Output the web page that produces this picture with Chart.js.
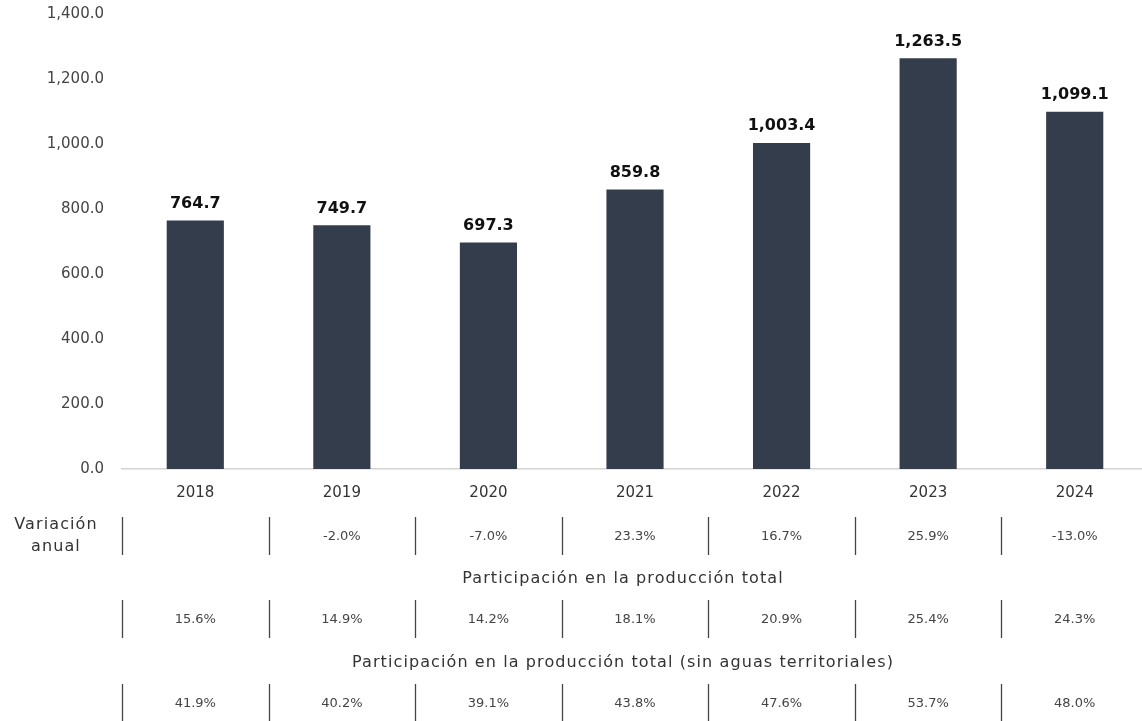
<!DOCTYPE html>
<html>
<head>
<meta charset="utf-8">
<script src="https://cdn.jsdelivr.net/npm/chart.js@4/dist/chart.umd.min.js"></script>
<style>
  html, body { margin: 0; padding: 0; background: #fff; overflow: hidden; }
  #wrap { width: 1150px; height: 721px; }
</style>
</head>
<body>
<div id="wrap"><canvas id="chart" width="1150" height="721"></canvas></div>
<script>
// datos
const years = ['2018', '2019', '2020', '2021', '2022', '2023', '2024'];
const values = [764.7, 749.7, 697.3, 859.8, 1003.4, 1263.5, 1099.1];
const variacionAnual = ['', '-2.0%', '-7.0%', '23.3%', '16.7%', '25.9%', '-13.0%'];
const participacion = ['15.6%', '14.9%', '14.2%', '18.1%', '20.9%', '25.4%', '24.3%'];
const participacionSinAguas = ['41.9%', '40.2%', '39.1%', '43.8%', '47.6%', '53.7%', '48.0%'];
const rowTitles = ['Participación en la producción total', 'Participación en la producción total (sin aguas territoriales)'];

const FONT = '"DejaVu Sans", "Noto Sans", sans-serif';
const fmt = v => v.toLocaleString('en-US', { minimumFractionDigits: 1, maximumFractionDigits: 1 });

// etiquetas sobre barras + tabla inferior
const extrasPlugin = {
  id: 'extras',
  afterDatasetsDraw(chart) {
    const ctx = chart.ctx;
    const x = chart.scales.x;
    const meta = chart.getDatasetMeta(0);
    ctx.save();
    ctx.letterSpacing = '0px';
    ctx.textAlign = 'center';
    ctx.textBaseline = 'bottom';
    ctx.fillStyle = '#111';
    ctx.font = 'bold 16px ' + FONT;
    meta.data.forEach((bar, i) => {
      ctx.fillText(fmt(values[i]), bar.x, bar.y - 9);
    });

    const step = x.getPixelForTick(1) - x.getPixelForTick(0);
    const drawRow = (labels, yTop, yBot) => {
      ctx.strokeStyle = '#444';
      ctx.lineWidth = 1.3;
      ctx.fillStyle = '#444';
      ctx.font = '13px ' + FONT;
      ctx.textBaseline = 'middle';
      labels.forEach((t, i) => {
        const cx = x.getPixelForTick(i);
        const sx = Math.round(cx - step / 2) + 0.5;
        ctx.beginPath();
        ctx.moveTo(sx, yTop);
        ctx.lineTo(sx, yBot);
        ctx.stroke();
        if (t) ctx.fillText(t, cx, (yTop + yBot) / 2 + 1);
      });
    };
    drawRow(variacionAnual, 517, 555);
    drawRow(participacion, 600, 638);
    drawRow(participacionSinAguas, 684, 722);

    // titulos de filas (fuente original mas ancha)
    ctx.fillStyle = '#333';
    ctx.font = '16px ' + FONT;
    ctx.letterSpacing = '1.1px';
    ctx.fillText('Variación', 56, 525);
    ctx.fillText('anual', 56, 547);
    ctx.fillText(rowTitles[0], 623, 579);
    ctx.fillText(rowTitles[1], 623, 663);
    ctx.letterSpacing = '0px';
    ctx.restore();
  }
};

new Chart(document.getElementById('chart'), {
  type: 'bar',
  data: {
    labels: years,
    datasets: [{
      data: values,
      backgroundColor: '#343d4c',
      categoryPercentage: 1,
      barPercentage: 0.39
    }]
  },
  options: {
    responsive: false,
    animation: false,
    layout: { padding: { top: 14, right: 2 } },
    plugins: { legend: { display: false }, tooltip: { enabled: false } },
    scales: {
      x: {
        grid: { display: false, drawTicks: false },
        border: { display: true, color: '#d4d4d4', width: 1.5 },
        ticks: { color: '#333', font: { size: 15, family: FONT }, padding: 15 },
        afterFit(scale) { scale.height = 252; }
      },
      y: {
        min: 0,
        max: 1400,
        grid: { display: false, drawTicks: false },
        border: { display: false },
        ticks: {
          stepSize: 200,
          color: '#444',
          font: { size: 15, family: FONT },
          padding: 18,
          callback: v => fmt(v)
        },
        afterFit(scale) {
          scale.width = 122;
          scale.paddingTop = 0;
          scale.paddingBottom = 0;
        }
      }
    }
  },
  plugins: [extrasPlugin]
});
</script>
</body>
</html>
